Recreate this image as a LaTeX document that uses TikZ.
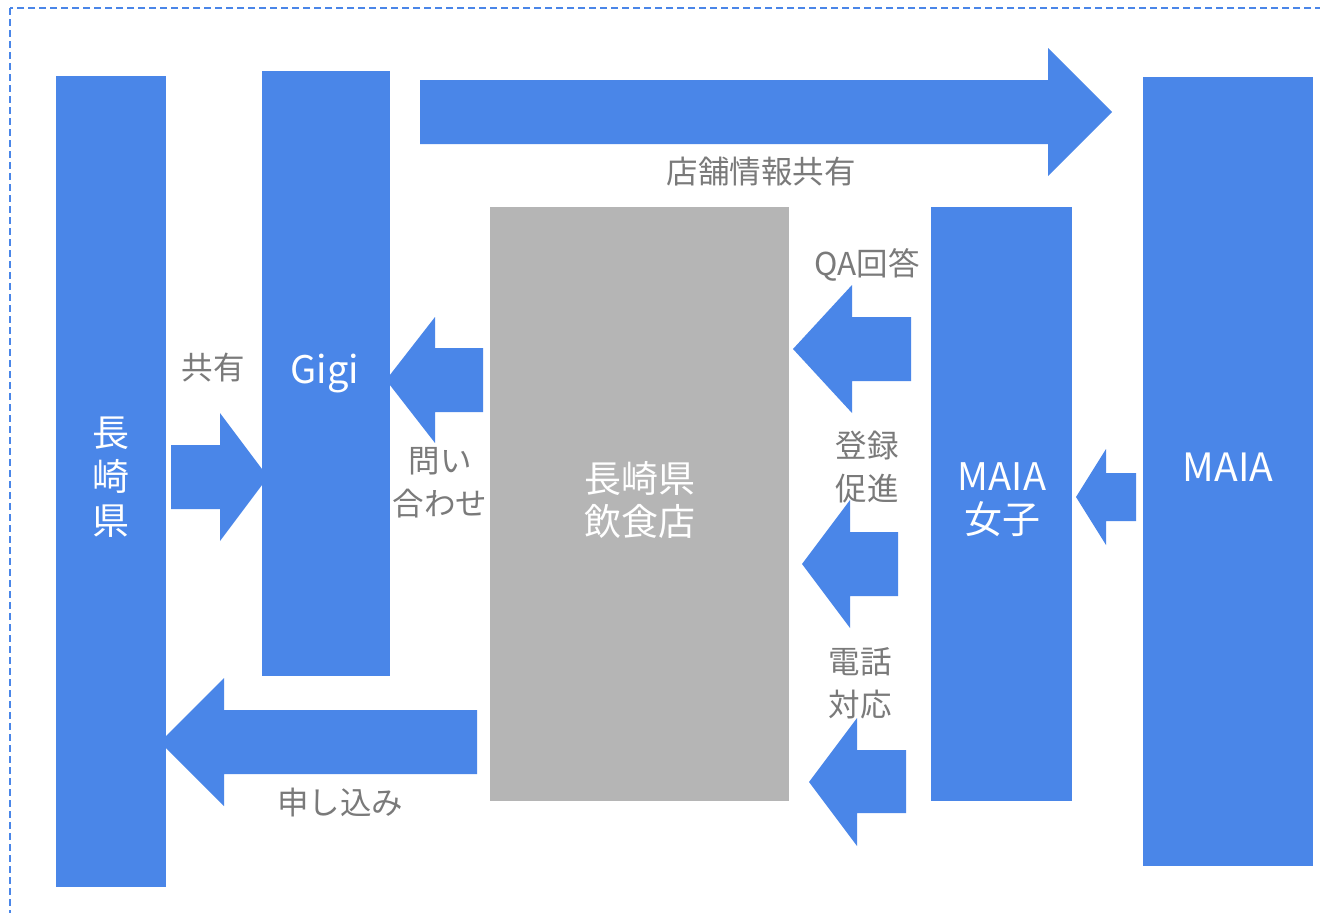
\documentclass[tikz,border=0pt]{standalone}
\usepackage{fontspec}
\setmainfont{Noto Sans CJK JP}
\definecolor{blk}{HTML}{4A86E8}
\definecolor{shopgray}{HTML}{B5B5B5}
\definecolor{lblgray}{HTML}{7A7A7A}
\tikzset{
  bar/.style={fill=blk, draw=none, inner sep=0pt, text=white, align=center,
    font=\fontsize{37}{44}\selectfont},
  shopbox/.style={bar, fill=shopgray},
  blockarrow/.style={fill=blk, draw=none},
  lbl/.style={text=lblgray, align=center, inner sep=0pt, font=\fontsize{31.5}{43}\selectfont},
  frame/.style={draw=blk, dash pattern=on 7pt off 4pt, line width=1.4pt}
}
\begin{document}
\begin{tikzpicture}[x=1pt,y=-1pt]
\useasboundingbox (0,0) rectangle (1320,913);
\clip (0,0) rectangle (1320,913);
\fill[white] (0,0) rectangle (1320,913);
% dashed frame (extends beyond the right and bottom edges)
\draw[frame] (10,8) rectangle (1340,940);

% block arrows
\fill[blockarrow] (420,80) -- (1048,80) -- (1048,48) -- (1112,112) -- (1048,176) -- (1048,144) -- (420,144) -- cycle;
\fill[blockarrow] (171,445) -- (220,445) -- (220,413) -- (268,477) -- (220,541) -- (220,509) -- (171,509) -- cycle;
\fill[blockarrow] (483,348) -- (435,348) -- (435,317) -- (386,380) -- (435,443) -- (435,412) -- (483,412) -- cycle;
\fill[blockarrow] (477,710) -- (224,710) -- (224,678) -- (160,742) -- (224,806) -- (224,774) -- (477,774) -- cycle;
\fill[blockarrow] (911,317) -- (852,317) -- (852,285) -- (793,349) -- (852,413) -- (852,381) -- (911,381) -- cycle;
\fill[blockarrow] (898,532) -- (850,532) -- (850,500) -- (802,564) -- (850,628) -- (850,596) -- (898,596) -- cycle;
\fill[blockarrow] (906,750) -- (857,750) -- (857,718) -- (809,782) -- (857,846) -- (857,813) -- (906,813) -- cycle;
\fill[blockarrow] (1136,473) -- (1106,473) -- (1106,449) -- (1076,497) -- (1106,545) -- (1106,521) -- (1136,521) -- cycle;

% bars
\node[bar, minimum width=110pt, minimum height=811pt] (ken) at (111,481.5) {};
\node[text=white, align=center, inner sep=0pt, font=\fontsize{37}{44}\selectfont] (kentext) at (111,477) {長\\崎\\県};
\node[bar, minimum width=128pt, minimum height=605pt] (gigi) at (326,373.5) {};
\node[text=white, inner sep=0pt, font=\fontsize{38}{44}\selectfont] (gigitext) at (325,374) {Gigi};
\node[shopbox, minimum width=299pt, minimum height=594pt] (shop) at (639.5,504) {};
\node[text=white, align=center, inner sep=0pt, font=\fontsize{37}{43}\selectfont] (shoptext) at (640,500) {長崎県\\飲食店};
\node[bar, minimum width=141pt, minimum height=594pt] (joshi) at (1001.5,504) {};
\node[text=white, align=center, inner sep=0pt, font=\fontsize{38}{43}\selectfont] (joshitext) at (1002,500) {MAIA\\女子};
\node[bar, minimum width=170pt, minimum height=789pt] (maia) at (1228,471.5) {};
\node[text=white, inner sep=0pt, font=\fontsize{39}{44}\selectfont] (maiatext) at (1228,467) {MAIA};

% labels
\node[lbl] (l1) at (761,172) {店舗情報共有};
\node[lbl] (l2) at (213,368) {共有};
\node[lbl] (l3) at (440,483) {問い\\合わせ};
\node[lbl] (l4) at (340,803) {申し込み};
\node[lbl] (l5) at (867,265) {QA回答};
\node[lbl] (l6) at (867,467) {登録\\促進};
\node[lbl] (l7) at (860,683) {電話\\対応};
\end{tikzpicture}
\end{document}
